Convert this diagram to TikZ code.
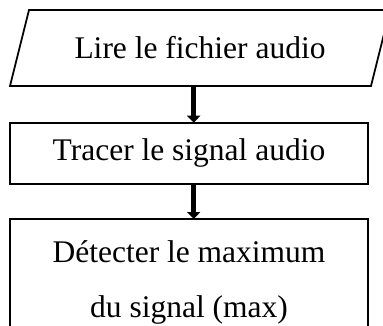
\documentclass[tikz,border=0pt]{standalone}
\usepackage{fontspec}
\setmainfont{Liberation Serif}
\usetikzlibrary{arrows.meta}

\begin{document}
\begin{tikzpicture}[x=1pt, y=1pt,
		every node/.style={font=\fontsize{31.5}{54.3}\selectfont, line width=1.8pt, inner sep=0pt, outer sep=0pt},
		box/.style={draw, rectangle, minimum width=358pt},
		flow/.style={line width=5.5pt, -{Triangle[length=7pt, width=13pt]}}]
			% Keep the visible part only
			\useasboundingbox (0,0) rectangle (383,-326);
			\clip (0,0) rectangle (383,-326);

			% Draw the input block (slanted sides)
			\node[minimum width=361pt, minimum height=76pt] (lire) at (200,-48) {Lire le fichier audio};
			\draw[line width=1.8pt, line join=miter] ([xshift=-9.5pt]lire.south west) -- ([xshift=9.5pt]lire.north west)
				-- ([xshift=9.5pt]lire.north east) -- ([xshift=-9.5pt]lire.south east) -- cycle;

			% Draw the processing blocks
			\node[box, minimum height=61.3pt] (tracer) at (189,-153.4) {Tracer le signal audio};
			\node[box, minimum height=127pt, anchor=north, align=center] (detecter) at (189,-219)
				{Détecter le maximum\\du signal (max)};

			% Draw the arrows between the blocks
			\draw[flow] ([xshift=4.7pt]tracer.north |- lire.south) -- ([xshift=4.7pt]tracer.north);
			\draw[flow] ([xshift=4.7pt]tracer.south) -- ([xshift=4.7pt]detecter.north);

		\end{tikzpicture}
\end{document}
